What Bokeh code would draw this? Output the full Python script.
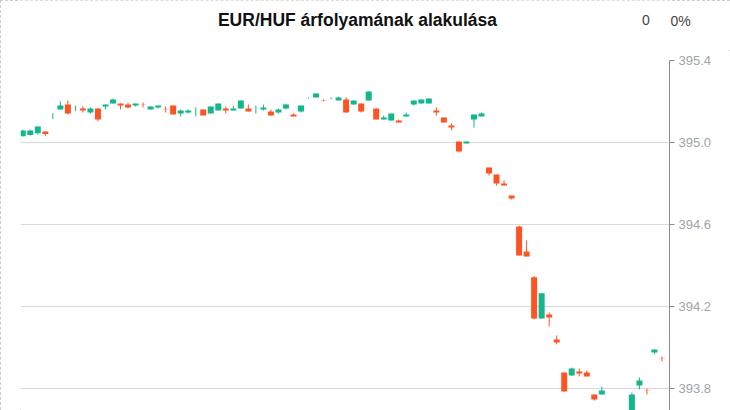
from bokeh.plotting import figure
from bokeh.layouts import column
from bokeh.models import Range1d, FixedTicker, ColumnDataSource
from bokeh.core.properties import value
from bokeh.embed import file_html
from bokeh.resources import INLINE

title_text = "EUR/HUF árfolyamának alakulása"
change_abs = "0"
change_pct = "0%"

opens = [395.031, 395.036, 395.045, 395.054, 395.130, 395.161, 395.185, 395.166, 395.166, 395.146,
         395.166, 395.176, 395.190, 395.190, 395.185, 395.180, 395.185, 395.161, 395.171, 395.160,
         395.180, 395.141, 395.146, 395.150, 395.161, 395.141, 395.156, 395.166, 395.156, 395.166,
         395.166, 395.160, 395.161, 395.151, 395.146, 395.166, 395.137, 395.151, 395.218, 395.220,
         395.206, 395.215, 395.205, 395.210, 395.185, 395.190, 395.205, 395.166, 395.112, 395.107,
         395.107, 395.127, 395.185, 395.190, 395.190, 395.156, 395.122, 395.083, 395.005, 394.995,
         395.112, 395.127, 394.878, 394.844, 394.800, 394.741, 394.590, 394.468, 394.343, 394.141,
         394.161, 394.039, 393.878, 393.863, 393.883, 393.878, 393.771, 393.771, 393.660, 393.640,
         393.620, 393.650, 393.815, 393.790, 393.976, 393.945]
highs = [395.063, 395.063, 395.078, 395.054, 395.143, 395.201, 395.205, 395.180, 395.176, 395.171,
         395.166, 395.185, 395.215, 395.190, 395.195, 395.190, 395.195, 395.176, 395.180, 395.176,
         395.180, 395.161, 395.161, 395.171, 395.161, 395.176, 395.190, 395.176, 395.180, 395.205,
         395.185, 395.180, 395.185, 395.161, 395.166, 395.190, 395.141, 395.180, 395.220, 395.239,
         395.210, 395.220, 395.224, 395.220, 395.205, 395.190, 395.249, 395.166, 395.132, 395.141,
         395.112, 395.146, 395.205, 395.210, 395.215, 395.171, 395.122, 395.093, 395.005, 395.005,
         395.137, 395.146, 394.878, 394.844, 394.815, 394.741, 394.595, 394.522, 394.348, 394.265,
         394.171, 394.059, 393.878, 393.902, 393.898, 393.888, 393.771, 393.810, 393.670, 393.660,
         393.670, 393.780, 393.854, 393.800, 393.990, 393.956]
lows = [395.029, 395.034, 395.038, 395.031, 395.114, 395.161, 395.137, 395.153, 395.146, 395.141,
        395.104, 395.161, 395.190, 395.161, 395.166, 395.176, 395.171, 395.161, 395.166, 395.146,
        395.137, 395.127, 395.141, 395.127, 395.132, 395.141, 395.156, 395.141, 395.156, 395.166,
        395.151, 395.141, 395.156, 395.132, 395.141, 395.161, 395.127, 395.146, 395.215, 395.220,
        395.200, 395.210, 395.205, 395.146, 395.185, 395.146, 395.205, 395.112, 395.112, 395.107,
        395.098, 395.127, 395.180, 395.190, 395.190, 395.132, 395.098, 395.059, 394.951, 394.995,
        395.073, 395.127, 394.839, 394.790, 394.790, 394.722, 394.449, 394.444, 394.137, 394.141,
        394.102, 394.015, 393.785, 393.863, 393.859, 393.859, 393.741, 393.771, 393.630, 393.610,
        393.600, 393.640, 393.795, 393.771, 393.966, 393.932]
closes = [395.059, 395.059, 395.078, 395.041, 395.130, 395.180, 395.141, 395.166, 395.156, 395.166,
          395.112, 395.185, 395.210, 395.180, 395.171, 395.190, 395.184, 395.176, 395.180, 395.159,
          395.137, 395.156, 395.156, 395.150, 395.132, 395.176, 395.190, 395.156, 395.166, 395.205,
          395.151, 395.160, 395.171, 395.132, 395.161, 395.185, 395.127, 395.180, 395.218, 395.239,
          395.205, 395.215, 395.220, 395.146, 395.205, 395.151, 395.249, 395.112, 395.122, 395.141,
          395.098, 395.137, 395.205, 395.210, 395.215, 395.146, 395.098, 395.073, 394.956, 395.005,
          395.137, 395.141, 394.849, 394.800, 394.790, 394.727, 394.449, 394.444, 394.141, 394.265,
          394.146, 394.024, 393.785, 393.898, 393.873, 393.859, 393.746, 393.790, 393.640, 393.620,
          393.650, 393.771, 393.839, 393.789, 393.990, 393.944]

tick_values = [393.8, 394.2, 394.6, 395.0, 395.4]
tick_labels = ["393.8", "394.2", "394.6", "395.0", "395.4"]

GREEN = "#14b68e"
RED = "#fd5426"
FONT = "Liberation Sans"

W = 730
HEAD_H = 50
FRAME_L, FRAME_R = 20, 669   # plot frame edges in page pixels

# ---- header strip (title and change readout), pixel coordinates ----
head = figure(width=W, height=HEAD_H, output_backend="svg", toolbar_location=None,
              x_range=Range1d(FRAME_L, FRAME_R), y_range=Range1d(0, HEAD_H),
              x_axis_location=None, y_axis_location="right",
              min_border_left=FRAME_L, min_border_right=W - FRAME_R,
              min_border_top=0, min_border_bottom=0)
head.outline_line_color = None
head.grid.visible = False
head.background_fill_color = "white"
head.border_fill_color = "white"
base_y = HEAD_H - 19.5
head.text(x=[357], y=[base_y], text=[title_text], text_font=value(FONT),
          text_font_style="bold", text_font_size="17.5px", text_color="#111111",
          text_align="center", text_baseline="alphabetic")
head.text(x=[645.5], y=[base_y], text=[change_abs],
          text_font=value(FONT), text_font_size="14px", text_color="#444444",
          text_align="center", text_baseline="alphabetic")
# the percentage readout sits right of the frame: shown as the header's right-axis label
pct_y = base_y - 0.5
hax = head.yaxis[0]
hax.ticker = FixedTicker(ticks=[pct_y])
hax.major_label_overrides = {pct_y: change_pct}
hax.axis_line_color = None
hax.major_tick_line_color = None
hax.minor_tick_line_color = None
hax.major_tick_out = 0
hax.major_tick_in = 0
hax.major_label_standoff = 1
hax.major_label_text_font = FONT
hax.major_label_text_font_size = "14px"
hax.major_label_text_color = "#444444"

# ---- candlestick chart ----
idx = list(range(len(opens)))
colors = [GREEN if c >= o else RED for o, c in zip(opens, closes)]
src = ColumnDataSource(dict(
    x=idx, high=highs, low=lows,
    top=[max(o, c) for o, c in zip(opens, closes)],
    bottom=[min(o, c) for o, c in zip(opens, closes)],
    color=colors,
))

p = figure(width=W, height=410 - HEAD_H, output_backend="svg", toolbar_location=None,
           x_range=Range1d(-0.3, 86.0), y_range=Range1d(393.6927, 395.4),
           x_axis_location=None, y_axis_location="right",
           min_border_left=FRAME_L, min_border_right=W - FRAME_R,
           min_border_top=10, min_border_bottom=0)
p.outline_line_color = None
p.background_fill_color = "white"
p.border_fill_color = "white"
p.xgrid.visible = False
p.ygrid.grid_line_color = "#d6dadd"
p.ygrid.grid_line_width = 1

ax = p.yaxis[0]
ax.ticker = FixedTicker(ticks=tick_values)
ax.major_label_overrides = {v: t for v, t in zip(tick_values, tick_labels)}
ax.axis_line_color = "#8a8a8a"
ax.major_tick_line_color = "#8a8a8a"
ax.major_tick_out = 5
ax.major_tick_in = 0
ax.minor_tick_line_color = None
ax.major_label_text_color = "#a0a4a8"
ax.major_label_text_font = FONT
ax.major_label_text_font_size = "13px"
ax.major_label_standoff = 4

p.segment(x0="x", y0="high", x1="x", y1="low", source=src, line_color="color", line_width=1)
p.vbar(x="x", width=0.8, top="top", bottom="bottom", source=src,
       fill_color="color", line_color=None)

layout = column(head, p, spacing=0,
                styles={"outline": "1px dashed #bdbdbd", "outline-offset": "-1px"})

open("out.html", "w").write(file_html(layout, INLINE))
